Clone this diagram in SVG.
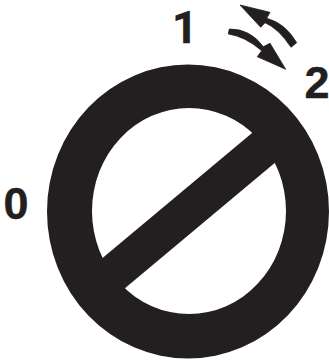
<svg xmlns="http://www.w3.org/2000/svg" width="329" height="360" viewBox="0 0 329 360">
<style>
.k{fill:#231f20}
.a{fill:#231f20;stroke:#231f20;stroke-width:.8px;stroke-linejoin:miter}
.t{font-family:"Liberation Sans",Arial,sans-serif;font-weight:700;font-size:45px;fill:#231f20;stroke:#231f20;stroke-width:.4px}
.r{font-family:Roboto,"Liberation Sans",Arial,sans-serif;font-weight:700}
</style>
<rect width="329" height="360" fill="#fff"/>
<g id="dial">
<path class="k" fill-rule="evenodd" d="M47,211.500a141,147 0 1 0 282,0a141,147 0 1 0 -282,0ZM92,211a97,103 0 1 1 194,0a97,103 0 1 1 -194,0Z"/>
<path class="k" d="M267,120.500L289.600,150.500L109.700,301.100L87,271.100Z"/>
</g>
<g id="label-0"><text class="t" x="3.500" y="218.500">0</text></g>
<g id="label-1"><text class="t r" x="172" y="43">1</text></g>
<g id="label-2"><text class="t" x="304.500" y="97.500">2</text></g>
<g id="connectors">
<path class="a" d="M296.700,42.700Q284.900,22.900 266.700,18.300L270,12.300L240,5L260.700,27.300L265,22.700Q278.600,28.400 291,47.300Z"/>
<path class="a" d="M229.300,29Q250.300,28.800 263.300,46.700L270,43.300L285.700,69.300L257.300,56.700L261.700,50.700Q245,36.300 228.300,34Z"/>
</g>
</svg>
